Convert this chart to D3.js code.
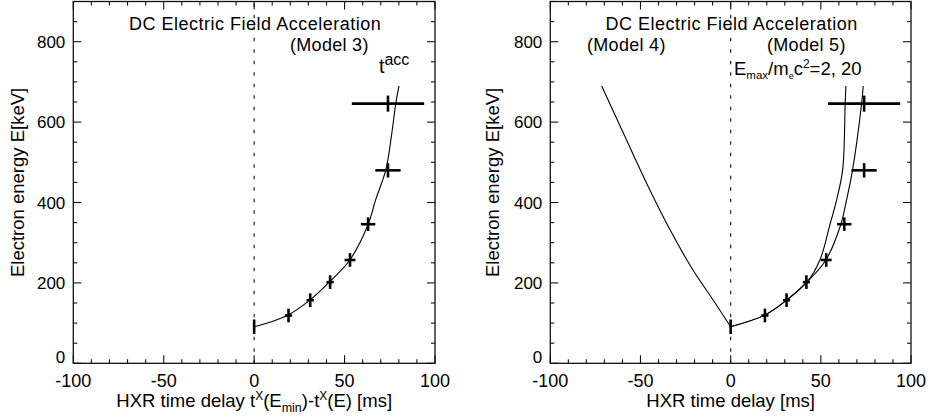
<!DOCTYPE html>
<html>
<head>
<meta charset="utf-8">
<script src="https://cdn.jsdelivr.net/npm/d3@7"></script>
<style>
  html, body { margin: 0; padding: 0; background: #fff; }
  svg { display: block; }
  text { font-family: "Liberation Sans", Arial, Helvetica, sans-serif; fill: #000; }
</style>
</head>
<body>
<svg id="chart" width="932" height="420"></svg>
<script>
// ---- data ----
const xMajorTicks = [-100, -50, 0, 50, 100];
const xMinorTicks = d3.range(-100, 101, 10);
const yMajorTicks = [0, 200, 400, 600, 800];
const yMinorTicks = d3.range(0, 901, 50);

const obsDelay     = [0, 19, 31, 42, 53, 63, 74, 74];
const obsEnergy    = [91, 119, 157, 202, 257, 346, 480, 646];
const obsDelayErr  = [0.5, 2, 2, 2, 3, 4, 7, 20];
const obsEnergyErr = [18, 17, 17, 17, 17, 17, 18, 20];

// Model 3 (t^acc)
const model3Delay  = [0, 10, 18.8, 30.8, 41.8, 52.9, 62.9, 67.2, 72.8, 75.9, 78.3, 80.1];
const model3Energy = [91, 104, 120, 157, 203, 257, 344, 407, 481, 565, 646, 690];
// Model 4
const model4Delay  = [0, -9.8, -20.9, -33.6, -46.6, -59.0, -71.5];
const model4Energy = [91, 158, 232, 332, 448, 568, 690];
// Model 5 (Emax/mec2 = 2)
const model5aDelay  = [0, 19, 31, 42.5, 49.5, 55.0, 58.8, 62.1, 63.5, 63.9];
const model5aEnergy = [91, 120, 157, 203, 257, 344, 407, 481, 646, 690];
// Model 5 (Emax/mec2 = 20)
const model5bDelay  = [0, 19, 31, 42.5, 52.8, 61.0, 64.3, 67.6, 72.6, 73.5];
const model5bEnergy = [91, 120, 157, 203, 257, 344, 407, 481, 646, 690];

const titleText = "DC Electric Field Acceleration";
const yLabelText = "Electron energy E[keV]";

// ---- drawing ----
const svg = d3.select("#chart");
const FONT = 18.5;

function drawPanel(cfg) {
  const x = d3.scaleLinear().domain([-100, 100]).range([cfg.left, cfg.right]);
  const y = d3.scaleLinear().domain([0, 900]).range([363.3, 1.5]);
  const g = svg.append("g");

  // zero line
  g.append("line")
    .attr("x1", x(0)).attr("x2", x(0))
    .attr("y1", y(0)).attr("y2", y(900))
    .attr("stroke", "#222").attr("stroke-width", 1.2)
    .attr("stroke-dasharray", "3.5,8");

  // frame
  g.append("rect")
    .attr("x", x(-100)).attr("y", y(900))
    .attr("width", x(100) - x(-100)).attr("height", y(0) - y(900))
    .attr("fill", "none").attr("stroke", "#111").attr("stroke-width", 1.3);

  // ticks (inward, on all four sides)
  const tk = g.append("g").attr("stroke", "#111").attr("stroke-width", 1.1);
  xMinorTicks.forEach(v => {
    const len = xMajorTicks.includes(v) ? 8 : 4;
    tk.append("line").attr("x1", x(v)).attr("x2", x(v)).attr("y1", y(0)).attr("y2", y(0) - len);
    tk.append("line").attr("x1", x(v)).attr("x2", x(v)).attr("y1", y(900)).attr("y2", y(900) + len);
  });
  yMinorTicks.forEach(v => {
    const len = yMajorTicks.includes(v) ? 8 : 4;
    tk.append("line").attr("x1", x(-100)).attr("x2", x(-100) + len).attr("y1", y(v)).attr("y2", y(v));
    tk.append("line").attr("x1", x(100)).attr("x2", x(100) - len).attr("y1", y(v)).attr("y2", y(v));
  });

  // tick labels
  xMajorTicks.forEach(v => {
    g.append("text").attr("x", x(v)).attr("y", y(0) + 23.4)
      .attr("text-anchor", "middle").attr("font-size", 18).text(v);
  });
  yMajorTicks.forEach(v => {
    g.append("text").attr("x", x(-100) - 8).attr("y", v === 0 ? y(v) - 0.3 : y(v) + 6)
      .attr("text-anchor", "end").attr("font-size", 17).text(v);
  });

  // y label
  g.append("text")
    .attr("transform", `translate(${cfg.yLabelX},${(y(0) + y(900)) / 2}) rotate(-90)`)
    .attr("text-anchor", "middle").attr("font-size", FONT).text(yLabelText);

  // title
  g.append("text").attr("x", x(0) + 1).attr("y", 30)
    .attr("text-anchor", "middle").attr("font-size", 18)
    .attr("letter-spacing", 0.5).text(titleText);

  // model curves
  const line = d3.line().x(d => x(d[0])).y(d => y(d[1])).curve(d3.curveCatmullRom.alpha(0.5));
  cfg.curves.forEach(c => {
    g.append("path").datum(d3.zip(c[0], c[1]))
      .attr("d", line).attr("fill", "none").attr("stroke", "#000").attr("stroke-width", 1.1);
  });

  // observations with error bars
  const eb = g.append("g").attr("stroke", "#000").attr("stroke-width", 2.6);
  obsDelay.forEach((d, i) => {
    const e = obsEnergy[i];
    eb.append("line").attr("x1", x(d - obsDelayErr[i])).attr("x2", x(d + obsDelayErr[i]))
      .attr("y1", y(e)).attr("y2", y(e));
    eb.append("line").attr("x1", x(d)).attr("x2", x(d))
      .attr("y1", y(e - obsEnergyErr[i])).attr("y2", y(e + obsEnergyErr[i]));
  });

  return { g, x, y };
}

// Left panel
const L = drawPanel({
  left: 73.3, right: 435, yLabelX: 23.5,
  curves: [[model3Delay, model3Energy]]
});
L.g.append("text").attr("x", 290).attr("y", 50.5).attr("font-size", 18)
  .attr("letter-spacing", 0.3).text("(Model 3)");
const tacc = L.g.append("text").attr("x", 379).attr("y", 73).attr("font-size", 19.5);
tacc.append("tspan").text("t");
tacc.append("tspan").attr("dy", -8.5).attr("font-size", 16).text("acc");

const xl = L.g.append("text").attr("x", 254.2).attr("y", 407.3).attr("text-anchor", "middle").attr("font-size", FONT);
xl.append("tspan").text("HXR time delay t");
xl.append("tspan").attr("dy", -7).attr("font-size", 12).text("X");
xl.append("tspan").attr("dy", 7).text("(E");
xl.append("tspan").attr("dy", 5).attr("font-size", 12.5).text("min");
xl.append("tspan").attr("dy", -5).text(")-t");
xl.append("tspan").attr("dy", -7).attr("font-size", 12).text("X");
xl.append("tspan").attr("dy", 7).text("(E) [ms]");

// Right panel
const R = drawPanel({
  left: 550.3, right: 911, yLabelX: 499,
  curves: [[model4Delay, model4Energy], [model5aDelay, model5aEnergy], [model5bDelay, model5bEnergy]]
});
R.g.append("text").attr("x", 587).attr("y", 50.5).attr("font-size", 18)
  .attr("letter-spacing", 0.3).text("(Model 4)");
R.g.append("text").attr("x", 767).attr("y", 50.5).attr("font-size", 18)
  .attr("letter-spacing", 0.3).text("(Model 5)");
const em = R.g.append("text").attr("x", 734).attr("y", 75).attr("font-size", FONT);
em.append("tspan").text("E");
em.append("tspan").attr("dy", 4).attr("font-size", 11.5).text("max");
em.append("tspan").attr("dy", -4).text("/m");
em.append("tspan").attr("dy", 3.5).attr("font-size", 9).text("e");
em.append("tspan").attr("dy", -3.5).text("c");
em.append("tspan").attr("dy", -7).attr("font-size", 12).text("2");
em.append("tspan").attr("dy", 7).text("=2, 20");

R.g.append("text").attr("x", R.x(0)).attr("y", 406.7).attr("text-anchor", "middle")
  .attr("font-size", FONT).text("HXR time delay [ms]");
</script>
</body>
</html>
